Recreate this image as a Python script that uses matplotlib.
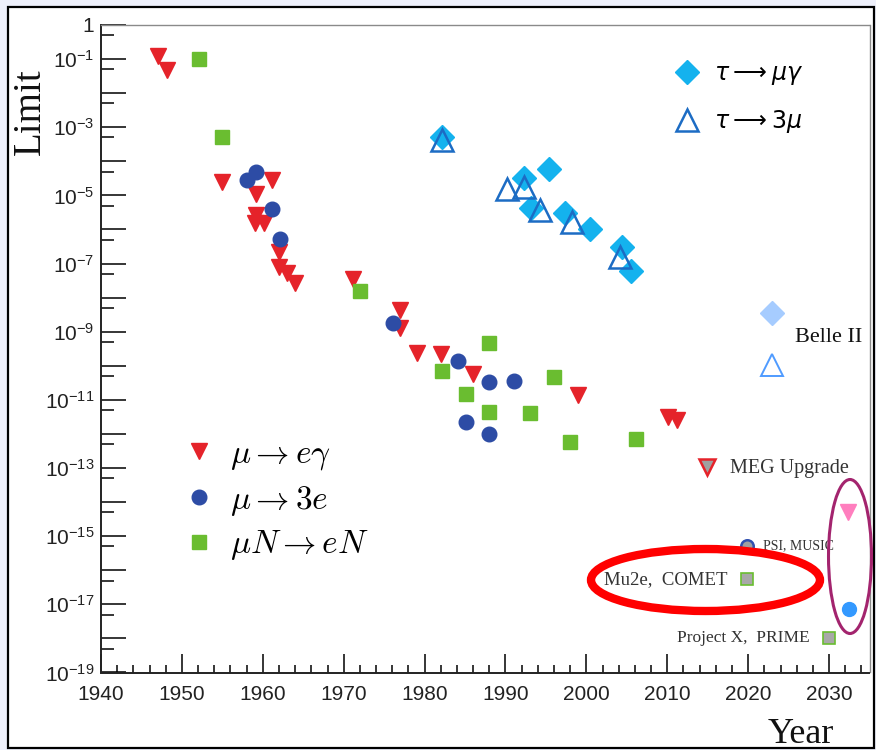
import matplotlib
matplotlib.use("Agg")
import matplotlib.pyplot as plt
import numpy as np
from matplotlib.patches import Ellipse, Rectangle
from matplotlib.font_manager import FontProperties
from matplotlib.ticker import FixedLocator, FuncFormatter, NullFormatter

# mu -> e gamma
meg_year = [1947.1, 1948.1, 1955.0, 1959.2, 1959.2, 1959.0, 1960.2, 1961.1, 1962.0, 1962.0,
            1963.0, 1964.0, 1971.1, 1977.0, 1977.0, 1979.1, 1982.0, 1986.0, 1999.0, 2010.1, 2011.2]
meg_limit = [1.2e-1, 4.8e-2, 2.4e-5, 1.1e-5, 2.6e-6, 1.5e-6, 1.5e-6, 2.8e-5, 2.2e-7, 8e-8,
             5.4e-8, 2.6e-8, 3.5e-8, 4.3e-9, 1.3e-9, 2.3e-10, 2.2e-10, 5.7e-11, 1.4e-11, 3.2e-12, 2.6e-12]

# mu -> 3e
m3e_year = [1958.1, 1959.1, 1961.1, 1962.1, 1976.1, 1984.1, 1985.1, 1988.0, 1988.0, 1991.1]
m3e_limit = [2.8e-5, 5e-5, 4e-6, 5.1e-7, 1.8e-9, 1.4e-10, 2.3e-12, 3.4e-11, 9.8e-13, 3.6e-11]

# mu N -> e N
mue_year = [1952.1, 1955.0, 1972.0, 1982.1, 1985.1, 1988.0, 1988.0, 1993.0, 1996.0, 1998.0, 2006.1]
mue_limit = [9.8e-2, 5e-4, 1.56e-8, 7e-11, 1.5e-11, 4.8e-10, 4.5e-12, 4.2e-12, 4.6e-11, 5.9e-13, 6.9e-13]

# tau -> mu gamma
tmg_year = [1982.2, 1992.3, 1995.4, 1993.2, 1997.3, 2000.5, 2004.4, 2005.5]
tmg_limit = [5.3e-4, 3.2e-5, 5.9e-5, 4.2e-6, 3.0e-6, 1.0e-6, 3.1e-7, 6.2e-8]

# tau -> 3 mu
t3m_year = [1982.2, 1990.2, 1992.3, 1994.3, 1998.2, 2004.2]
t3m_limit = [4.2e-4, 1.5e-5, 1.8e-5, 3.7e-6, 1.7e-6, 1.6e-7]

# Belle II expectations
belle_year = 2023.0
belle_tmg = 3.5e-9
belle_t3m = 1.05e-10

# future projects
meg_up = (2014.9, 1.1e-13)
psi_music = (2019.9, 5.1e-16)
mu2e_comet = (2019.9, 5.5e-17)
projx_prime = (2030.0, 1e-18)
future_meg = (2032.4, 5.2e-15)
future_m3e = (2032.5, 7.1e-18)

red = '#E5232A'
blue = '#2D4CA5'
green = '#6ABD30'
sky = '#14B2EE'
tri_blue = '#1C6CC4'

fig = plt.figure(figsize=(8.76, 7.5), dpi=100)
fig.patch.set_facecolor('#EEF0FB')
fig.add_artist(Rectangle((8 / 876, 1 - 748 / 750), 866 / 876, 741 / 750,
                         transform=fig.transFigure, facecolor='white',
                         edgecolor='black', lw=1.6, zorder=-1))

ax = fig.add_axes([101 / 876, 1 - 672.5 / 750, 768.5 / 876, 647.5 / 750])

ax.plot(meg_year, meg_limit, 'v', ms=12, color=red, mec=red, ls='none',
        label=r'$\mu \rightarrow e\gamma$')
ax.plot(m3e_year, m3e_limit, 'o', ms=10.5, color=blue, mec=blue, ls='none',
        label=r'$\mu \rightarrow 3e$')
ax.plot(mue_year, mue_limit, 's', ms=9.5, color=green, mec=green, ls='none',
        label=r'$\mu N \rightarrow eN$')
h_mu = ax.get_legend_handles_labels()

tau1, = ax.plot(tmg_year, tmg_limit, 'D', ms=12, color=sky, mec=sky, ls='none',
                label=r'$\tau \longrightarrow \mu\gamma$')
tau2, = ax.plot(t3m_year, t3m_limit, '^', ms=16, mfc='none', mec=tri_blue, mew=1.8,
                ls='none', label=r'$\tau \longrightarrow 3\mu$')

ax.plot([belle_year], [belle_tmg], 'D', ms=12, color='#A6CCFF', mec='#A6CCFF')
ax.plot([belle_year], [belle_t3m], '^', ms=16, mfc='none', mec='#4F9BFF', mew=1.4)

ax.plot(*meg_up, 'v', ms=12, mfc='#A0A0A0', mec=red, mew=1.8)
ax.plot(*psi_music, 'o', ms=9, mfc='#A0A0A0', mec='#3050B0', mew=1.8)
ax.plot(*mu2e_comet, 's', ms=9, mfc='#A8A8A8', mec=green, mew=1.2)
ax.plot(*projx_prime, 's', ms=9, mfc='#A8A8A8', mec=green, mew=1.2)
ax.plot(*future_meg, 'v', ms=12, color='#FF7EBE', mec='#FF7EBE')
ax.plot(*future_m3e, 'o', ms=10, color='#3399FF', mec='#3399FF')

serif = 'Liberation Serif'
ax.text(2025.8, 6.6e-10, 'Belle II', family=serif, fontsize=16, va='center', color='#111111')
ax.text(2017.8, 1.0e-13, 'MEG Upgrade', family=serif, fontsize=14.5, va='center', color='#333333')
ax.text(2021.8, 5.1e-16, 'PSI, MUSIC', family=serif, fontsize=10, va='center', color='#333333')
ax.text(2017.4, 5.5e-17, 'Mu2e,  COMET', family=serif, fontsize=13.5, va='center', ha='right',
        color='#333333')
ax.text(2027.6, 1.0e-18, 'Project X,  PRIME', family=serif, fontsize=12.5, va='center', ha='right',
        color='#333333')

# axes setup
ax.set_xlim(1940, 2035)
ax.set_yscale('log')
ax.set_ylim(1e-19, 1)
ax.xaxis.set_major_locator(FixedLocator(np.arange(1940, 2031, 10)))
ax.xaxis.set_minor_locator(FixedLocator(np.arange(1940, 2035, 2)))
ax.yaxis.set_major_locator(FixedLocator([10.0 ** k for k in range(-19, 1)]))
ax.yaxis.set_minor_locator(FixedLocator([5 * 10.0 ** k for k in range(-19, 0)]))


def ylab(v, pos):
    k = int(round(np.log10(v)))
    if k == 0:
        return '1'
    if k % 2 == 0:
        return ''
    return r'$\mathregular{10^{%d}}$' % k


ax.yaxis.set_major_formatter(FuncFormatter(ylab))
ax.yaxis.set_minor_formatter(NullFormatter())

ax.tick_params(axis='y', which='major', direction='in', length=18, width=1.1, pad=5,
               labelsize=15, labelcolor='#222222', labelfontfamily='Liberation Sans')
ax.tick_params(axis='y', which='minor', direction='in', length=9, width=1.1)
ax.tick_params(axis='x', which='major', direction='in', length=14, width=1.1, pad=9,
               labelsize=15, labelcolor='#222222', labelfontfamily='Liberation Sans')
ax.tick_params(axis='x', which='minor', direction='in', length=6, width=1.1)
for s in ['left', 'bottom']:
    ax.spines[s].set_linewidth(1.4)
    ax.spines[s].set_color('#222222')
for s in ['top', 'right']:
    ax.spines[s].set_linewidth(1.0)
    ax.spines[s].set_color('#8A8A8A')

# legends
leg1 = ax.legend(h_mu[0], h_mu[1], loc='upper left', bbox_to_anchor=((182 - 101) / 768.5, 1 - (437 - 25) / 647.5),
                 frameon=False, borderpad=0, borderaxespad=0, handlelength=1.0, handletextpad=0.43,
                 labelspacing=0.30, prop=FontProperties(size=24, math_fontfamily='cm'))
ax.add_artist(leg1)
ax.legend([tau1, tau2], [tau1.get_label(), tau2.get_label()], loc='upper left',
          bbox_to_anchor=((679 - 101) / 768.5, 1 - (61 - 25) / 647.5),
          frameon=False, borderpad=0, borderaxespad=0, handlelength=0.7, handletextpad=0.77,
          labelspacing=0.88, prop=FontProperties(size=17, math_fontfamily='dejavusans'))

# axis titles
fig.text(30 / 876, 1 - 112 / 750, 'Limit', rotation=90, family=serif, fontsize=28,
         ha='center', va='center', color='#111111')
fig.text(834 / 876, 1 - 743 / 750, 'Year', family=serif, fontsize=26,
         ha='right', va='baseline', color='#111111')

# highlight ellipses
fig.add_artist(Ellipse((705.5 / 876, 1 - 580 / 750), 229 / 876, 62 / 750, transform=fig.transFigure,
                       fill=False, edgecolor='#FF0000', lw=6, zorder=10))
fig.add_artist(Ellipse((850 / 876, 1 - 556.5 / 750), 43 / 876, 154 / 750, transform=fig.transFigure,
                       fill=False, edgecolor='#A3246E', lw=2.2, zorder=10))

fig.savefig('out.png', dpi=100, facecolor=fig.get_facecolor())
